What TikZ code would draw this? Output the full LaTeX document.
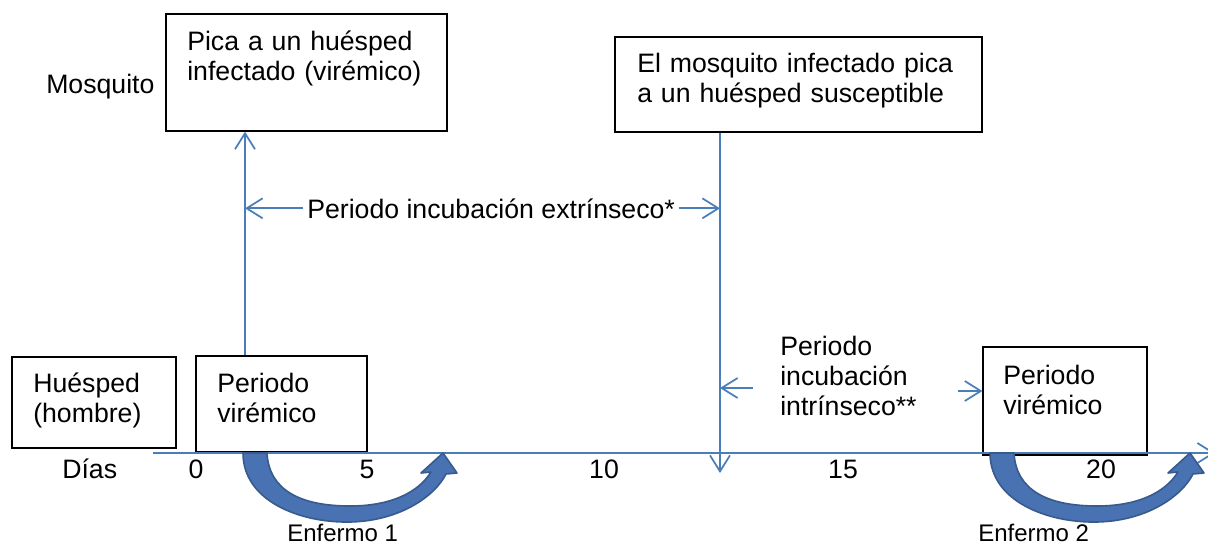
\documentclass[tikz,border=0pt]{standalone}
\usepackage{fontspec}
\setmainfont{Liberation Sans}
\usetikzlibrary{arrows.meta,fit}
\definecolor{lineblue}{RGB}{74,126,187}
\definecolor{arrfill}{RGB}{72,114,178}
\definecolor{arrdraw}{RGB}{56,90,140}
\begin{document}
\begin{tikzpicture}[x=0.75pt,y=-0.75pt,
  txt/.style={font=\fontsize{20}{22.5}\selectfont, inner sep=0pt, anchor=base west},
  mtxt/.style={txt, text width=300pt, align=left},
  small/.style={font=\fontsize{18}{21}\selectfont, inner sep=0pt, anchor=base west},
  boxst/.style={draw=black, line width=0.9pt, inner sep=0pt},
  conn/.style={draw=lineblue, line width=1.3pt},
  barb/.style={-{Straight Barb[length=12pt,width=15pt]}},
  bigarrow/.style={fill=arrfill, draw=arrdraw, line width=1.2pt, line join=round},
  enfermo/.pic={
    \path[bigarrow] (0,0) .. controls (0,48) and (57,70) .. (107,69)
      .. controls (157,68) and (192,43) .. (203,21) -- (214,20) -- (200,0) -- (178,20) -- (188,19)
      .. controls (175,40) and (147,53) .. (107,53)
      .. controls (57,53) and (26,37) .. (24,0) -- cycle;
  }]
\useasboundingbox (0,0) rectangle (1208,544);
\clip (0,0) rectangle (1208,544);

% boxes
\node[boxst, fit={(166,14) (447,131)}] (b1) {};
\node[boxst, fit={(615,37) (982,132)}] (b2) {};
\node[boxst, fit={(12,357) (176,448)}] (bh) {};
\node[boxst, fit={(196,356) (367,452)}] (bv1) {};
\node[boxst, fit={(983,347) (1147,455)}] (bv2) {};

% texts
\node[txt] (mosq) at (46,93) {Mosquito};
\node[mtxt] (t1) at (187,50) {Pica a un huésped\\infectado (virémico)};
\node[mtxt] (t2) at (637,72) {El mosquito infectado pica\\a un huésped susceptible};
\node[mtxt] (th) at (33,392) {Huésped\\(hombre)};
\node[mtxt] (tv1) at (217,392) {Periodo\\virémico};
\node[mtxt] (tv2) at (1003,384) {Periodo\\virémico};
\node[mtxt] (tint) at (780,355) {Periodo\\incubación\\intrínseco**};
\node[txt] (text) at (307,218) {Periodo incubación extrínseco*};

\node[txt] (dias) at (62,478) {Días};
\node[txt, anchor=base] (d0) at (196,478) {0};
\node[txt, anchor=base] (d5) at (367,478) {5};
\node[txt, anchor=base] (d10) at (604,478) {10};
\node[txt, anchor=base] (d15) at (843,478) {15};
\node[txt, anchor=base] (d20) at (1101,478) {20};
\node[small] (e1) at (287,541) {Enfermo 1};
\node[small] (e2) at (978,541) {Enfermo 2};

% connectors
\coordinate (vl) at (245,0);
\coordinate (vr) at (720,0);
\coordinate (vrend) at (720,473);
\coordinate (ax0) at (153,453);
\coordinate (ax1) at (1215,453);
\coordinate (ia) at (753,388);
\coordinate (ib) at (958,391);

\draw[conn, barb] (ax0) -- (ax1);
\draw[conn, barb] (vl |- bv1.north) -- (vl |- b1.south);
\draw[conn, barb] (vr |- b2.south) -- (vrend);
\draw[conn, barb] ([xshift=-3pt]text.west) -- (text.west -| vl);
\draw[conn, barb] ([xshift=3pt]text.east) -- (text.east -| vr);
\draw[conn, barb] (ia) -- (ia -| vr);
\draw[conn, barb] (ib) -- (ib -| bv2.west);

% curved arrows
\pic at (243,453) {enfermo};
\pic at (990,453) {enfermo};
\end{tikzpicture}
\end{document}
